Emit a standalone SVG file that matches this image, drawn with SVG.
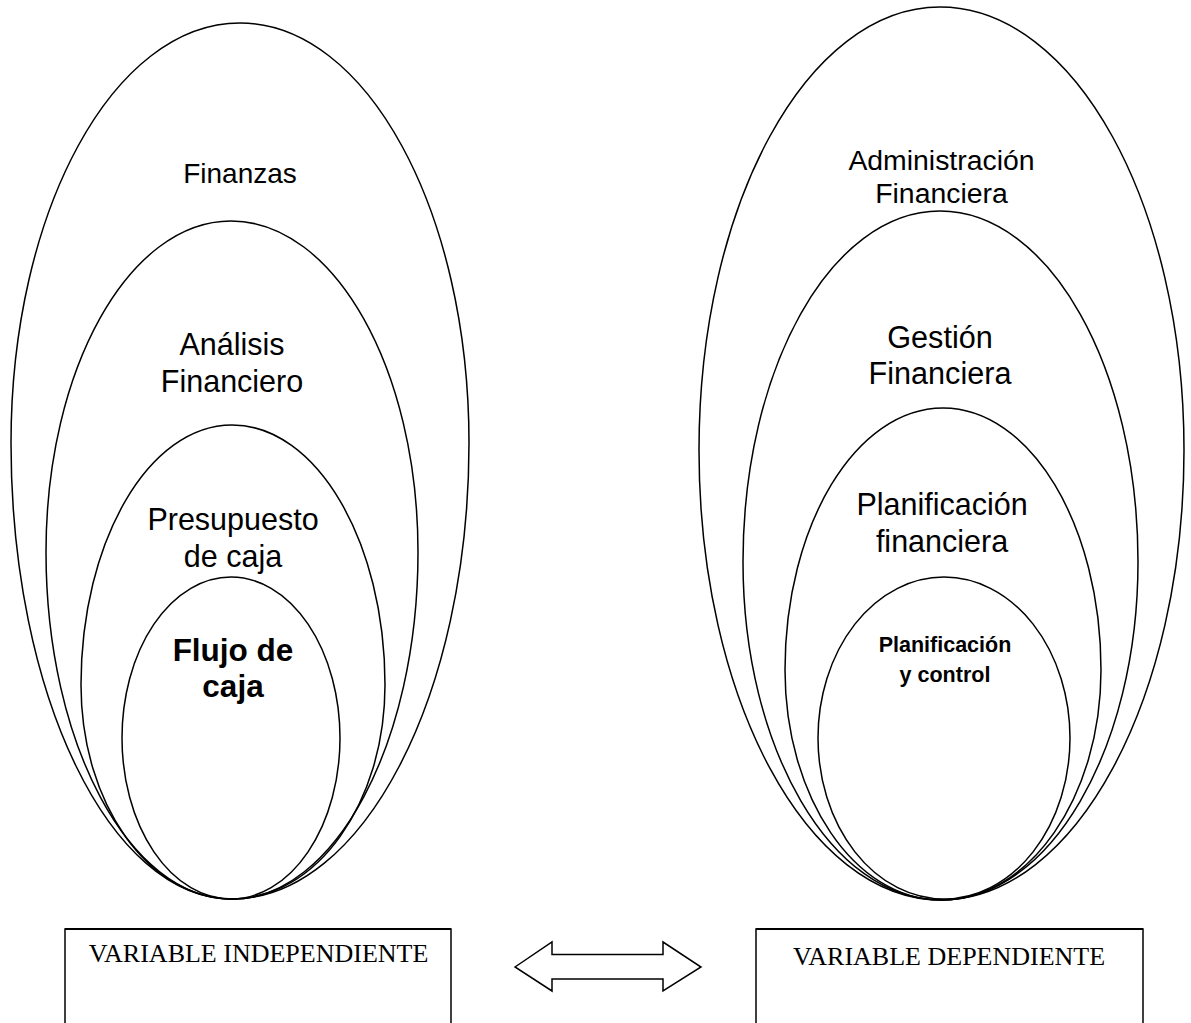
<svg xmlns="http://www.w3.org/2000/svg" width="1191" height="1023" viewBox="0 0 1191 1023">
<style>
.sh{fill:none;stroke:#000;stroke-width:1.5}
.bx{fill:#fff;stroke:#000;stroke-width:1.5}
.t{font-family:"Liberation Sans",Arial,sans-serif;fill:#000;text-anchor:middle}
.b{font-weight:bold}
.s{font-family:"Liberation Serif","Times New Roman",serif;font-size:26px;fill:#000;text-anchor:middle}
</style>
<rect width="1191" height="1023" fill="#fff"/>
<g id="left-set">
<g id="finanzas">
<path class="sh" d="M240,23 C366.5,23 469,211 469,443 C469,695 363,899 232,899 C110,899 11,695 11,443 C11,211 113.5,23 240,23Z"/>
<text class="t" x="240" y="183" font-size="28">Finanzas</text>
</g>
<g id="analisis">
<path class="sh" d="M231,221 C334.3,221 418,369.2 418,552 C418,743.6 334.7,899 232,899 C129.3,899 46,743.6 46,552 C46,369.2 128.8,221 231,221Z"/>
<text class="t" x="232" y="355" font-size="30.5">Análisis</text>
<text class="t" x="232" y="392" font-size="30.5">Financiero</text>
</g>
<g id="presupuesto">
<path class="sh" d="M232,425 C316.5,425 385,541.4 385,685 C385,803.2 316.5,899 232,899 C148.6,899 81,803.2 81,685 C81,541.4 148.6,425 232,425Z"/>
<text class="t" x="233" y="530" font-size="30.5">Presupuesto</text>
<text class="t" x="233" y="567" font-size="30.5">de caja</text>
</g>
<g id="flujo">
<ellipse class="sh" cx="231" cy="738" rx="109" ry="161"/>
<text class="t b" x="233" y="661" font-size="31.5">Flujo de</text>
<text class="t b" x="233" y="697" font-size="31.5">caja</text>
</g>
</g>
<g id="right-set">
<g id="administracion">
<path class="sh" d="M940,7 C1074.8,7 1184,205.3 1184,450 C1184,698.5 1075.2,900 941,900 C807.3,900 699,698.5 699,450 C699,205.3 806.9,7 940,7Z"/>
<text class="t" x="941.5" y="170" font-size="28.4">Administración</text>
<text class="t" x="941.5" y="203" font-size="28.4">Financiera</text>
</g>
<g id="gestion">
<path class="sh" d="M940,211 C1049.4,211 1138,368.1 1138,562 C1138,748.7 1049.8,900 941,900 C831.6,900 743,748.7 743,562 C743,368.1 831.2,211 940,211Z"/>
<text class="t" x="940" y="348" font-size="30.6">Gestión</text>
<text class="t" x="940" y="384" font-size="30.6">Financiera</text>
</g>
<g id="planificacion-financiera">
<path class="sh" d="M943,408 C1030.3,408 1101,525.3 1101,670 C1101,797 1029.4,900 941,900 C854.8,900 785,797 785,670 C785,525.3 855.7,408 943,408Z"/>
<text class="t" x="942" y="515" font-size="30.5">Planificación</text>
<text class="t" x="942" y="552" font-size="30.5">financiera</text>
</g>
<g id="planificacion-control">
<ellipse class="sh" cx="944" cy="738" rx="126" ry="161"/>
<text class="t b" x="945" y="652" font-size="21.5">Planificación</text>
<text class="t b" x="945" y="682" font-size="21.5">y control</text>
</g>
</g>
<g id="var-independiente">
<rect class="bx" x="65" y="929" width="386" height="120"/>
<line x1="65" y1="929" x2="451" y2="929" stroke="#000" stroke-width="2.2"/>
<text class="s" x="258.5" y="962">VARIABLE INDEPENDIENTE</text>
</g>
<g id="var-dependiente">
<rect class="bx" x="756" y="929" width="387" height="120"/>
<line x1="756" y1="929" x2="1143" y2="929" stroke="#000" stroke-width="2.2"/>
<text class="s" x="949" y="965">VARIABLE DEPENDIENTE</text>
</g>
<g id="connectors">
<polygon class="bx" points="515,967 552,942 552,954.5 663,954.5 663,942 701,967 663,991 663,979 552,979 552,991"/>
</g>
</svg>
